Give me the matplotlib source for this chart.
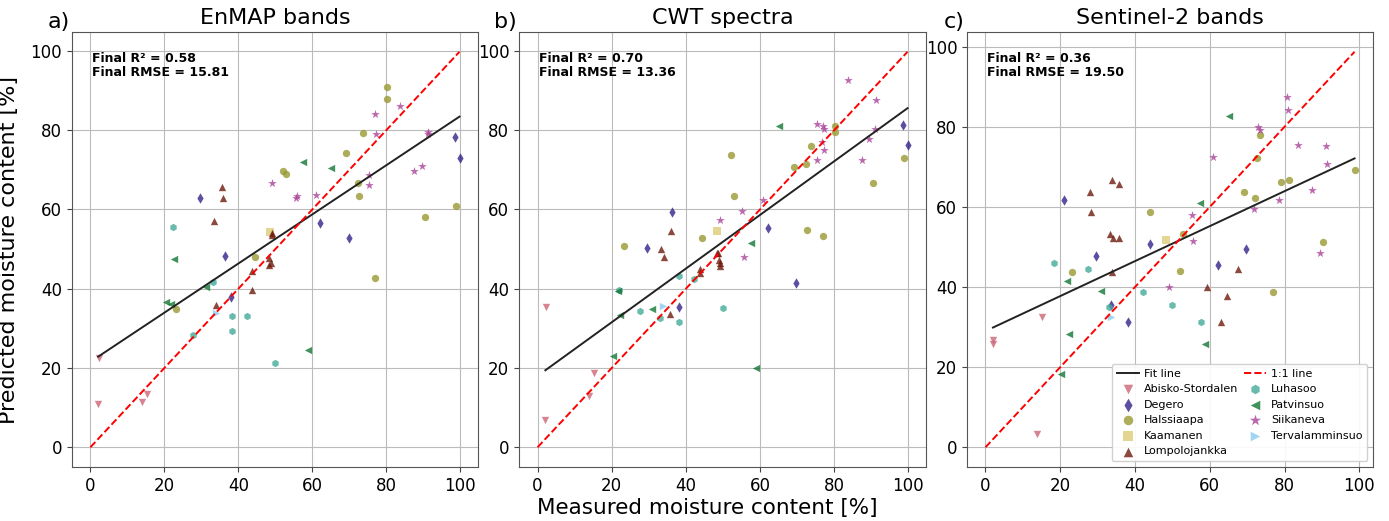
import matplotlib.pyplot as plt
import numpy as np

SITES = [
    "Abisko-Stordalen", "Degero", "Halssiaapa", "Kaamanen", "Lompolojankka",
    "Luhasoo", "Patvinsuo", "Siikaneva", "Tervalamminsuo",
]
MARKERS = ["v", "d", "o", "s", "^", "h", "<", "*", ">"]
COLORS = ["#CC6677", "#332288", "#999933", "#DDCC77", "#6E1A0C",
          "#44AA99", "#117733", "#AA4499", "#88CCEE"]

PANEL_TITLES = ["EnMAP bands", "CWT spectra", "Sentinel-2 bands"]
PANEL_LETTERS = ["a)", "b)", "c)"]
FINAL_R2 = [0.58, 0.70, 0.36]
FINAL_RMSE = [15.81, 13.36, 19.50]
# fit line (slope, intercept)
FIT_SLOPE = [0.620, 0.677, 0.4365]
FIT_INTERCEPT = [21.56, 18.0, 29.0]

ENMAP_X = {
    "Abisko-Stordalen": [2.3, 2.1, 14.0, 15.3],
    "Degero": [29.7, 36.3, 38.0, 62.2, 69.8, 98.5, 99.8],
    "Halssiaapa": [80.2, 80.2, 73.7, 69.1, 52.1, 52.8, 72.3, 72.6, 98.8, 90.4, 44.4, 77.0, 23.2],
    "Kaamanen": [48.5],
    "Lompolojankka": [35.7, 35.9, 33.4, 49.2, 49.0, 48.3, 48.8, 48.2, 43.8, 43.8, 33.9],
    "Luhasoo": [22.3, 33.1, 38.2, 42.3, 38.2, 27.7, 50.0],
    "Patvinsuo": [57.6, 65.1, 22.5, 31.2, 20.5, 21.8, 58.8],
    "Siikaneva": [77.0, 83.6, 77.3, 91.3, 91.4, 49.2, 55.5, 55.9, 60.9, 75.2, 75.3, 87.6, 89.6],
    "Tervalamminsuo": [33.9],
}
ENMAP_Y = {
    "Abisko-Stordalen": [22.4, 10.8, 11.3, 13.4],
    "Degero": [62.8, 48.3, 37.8, 56.7, 52.9, 78.4, 72.9],
    "Halssiaapa": [90.8, 88.0, 79.4, 74.2, 69.6, 68.9, 66.7, 63.5, 60.8, 58.1, 48.0, 42.8, 34.8],
    "Kaamanen": [54.4],
    "Lompolojankka": [65.7, 63.0, 57.1, 54.1, 53.6, 47.8, 46.6, 46.0, 44.5, 39.8, 35.9],
    "Luhasoo": [55.6, 41.6, 33.2, 33.2, 29.3, 28.2, 21.2],
    "Patvinsuo": [72.1, 70.4, 47.6, 40.5, 36.6, 36.2, 24.6],
    "Siikaneva": [84.0, 86.1, 79.1, 79.0, 79.6, 66.8, 63.0, 63.5, 63.7, 68.8, 66.3, 69.6, 70.9],
    "Tervalamminsuo": [33.8],
}

CWT_X = {
    "Abisko-Stordalen": [2.2, 2.1, 15.2, 13.9],
    "Degero": [29.6, 36.3, 38.1, 62.2, 69.8, 98.6, 99.8],
    "Halssiaapa": [80.2, 80.3, 73.7, 72.3, 69.2, 52.1, 52.9, 44.4, 23.2, 98.8, 90.5, 72.7, 77.0],
    "Kaamanen": [48.5],
    "Lompolojankka": [35.9, 33.4, 34.0, 48.4, 48.8, 48.9, 49.2, 49.2, 43.8, 43.8, 35.7],
    "Luhasoo": [22.0, 38.2, 42.2, 27.7, 33.1, 38.2, 49.9],
    "Patvinsuo": [65.2, 57.5, 21.7, 22.2, 31.0, 20.4, 58.9],
    "Siikaneva": [83.7, 91.4, 75.3, 76.9, 77.3, 76.8, 77.3, 75.3, 90.9, 89.5, 87.6, 60.9, 55.2, 49.2, 55.8],
    "Tervalamminsuo": [33.9],
}
CWT_Y = {
    "Abisko-Stordalen": [35.4, 7.0, 18.7, 13.0],
    "Degero": [50.2, 59.3, 35.4, 55.4, 41.4, 81.4, 76.2],
    "Halssiaapa": [81.0, 79.5, 75.9, 71.5, 70.6, 73.8, 63.5, 52.7, 50.9, 73.0, 66.8, 54.9, 53.4],
    "Kaamanen": [54.5],
    "Lompolojankka": [54.6, 50.0, 47.9, 49.1, 48.9, 47.3, 46.4, 45.8, 45.1, 43.9, 33.6],
    "Luhasoo": [39.8, 43.3, 42.4, 34.3, 32.7, 31.6, 35.2],
    "Patvinsuo": [81.0, 51.6, 39.4, 33.3, 34.9, 23.1, 20.0],
    "Siikaneva": [92.6, 87.7, 81.6, 81.0, 80.2, 77.0, 74.9, 72.6, 80.2, 77.9, 72.6, 62.4, 59.5, 57.3, 48.1],
    "Tervalamminsuo": [35.7],
}

S2_X = {
    "Abisko-Stordalen": [2.0, 2.1, 15.0, 13.7],
    "Degero": [20.9, 29.6, 33.7, 38.1, 44.1, 62.2, 69.8],
    "Halssiaapa": [73.4, 72.5, 69.0, 72.2, 78.9, 81.2, 98.7, 90.3, 76.9, 43.9, 52.7, 52.0, 23.2],
    "Kaamanen": [48.3],
    "Lompolojankka": [33.8, 35.7, 28.0, 28.2, 33.2, 34.1, 35.6, 33.8, 67.6, 59.2, 64.5, 63.0],
    "Luhasoo": [18.3, 27.5, 33.0, 42.1, 49.8, 57.7],
    "Patvinsuo": [65.0, 57.3, 21.7, 22.3, 30.9, 20.2, 58.7],
    "Siikaneva": [80.7, 81.0, 73.0, 73.3, 83.5, 91.1, 91.2, 60.8, 87.2, 78.5, 71.7, 55.2, 55.5, 49.0, 89.5],
    "Tervalamminsuo": [33.7],
}
S2_Y = {
    "Abisko-Stordalen": [26.7, 25.7, 32.6, 3.3],
    "Degero": [61.7, 47.7, 35.5, 31.2, 50.7, 45.4, 49.5],
    "Halssiaapa": [77.9, 72.3, 63.7, 62.1, 66.3, 66.6, 69.2, 51.3, 38.8, 58.7, 53.1, 44.0, 43.7],
    "Kaamanen": [51.8],
    "Lompolojankka": [66.7, 65.7, 63.7, 58.6, 53.3, 52.3, 52.3, 43.8, 44.6, 39.9, 37.8, 31.2],
    "Luhasoo": [45.9, 44.5, 35.1, 38.8, 35.4, 31.2],
    "Patvinsuo": [82.7, 61.0, 41.5, 28.3, 39.1, 18.4, 25.8],
    "Siikaneva": [87.3, 84.1, 79.9, 79.2, 75.4, 75.3, 70.8, 72.4, 64.2, 61.7, 59.4, 58.0, 51.5, 40.1, 48.5],
    "Tervalamminsuo": [32.6],
}

PANEL_X = [ENMAP_X, CWT_X, S2_X]
PANEL_Y = [ENMAP_Y, CWT_Y, S2_Y]

AXES_RECTS = [
    [0.0518, 0.1036, 0.2923, 0.835],
    [0.3737, 0.1036, 0.2930, 0.835],
    [0.6962, 0.1036, 0.2923, 0.835],
]


def main() -> None:
    fig = plt.figure(figsize=(13.89, 5.21), dpi=100)
    axes = [fig.add_axes(rect) for rect in AXES_RECTS]

    for i, ax in enumerate(axes):
        xs, ys = PANEL_X[i], PANEL_Y[i]
        site_handles = []
        for site, marker, color in zip(SITES, MARKERS, COLORS):
            size = 42 if marker == "*" else 28
            h = ax.scatter(xs[site], ys[site], marker=marker, s=size, color=color,
                           alpha=0.8, linewidths=0, label=site, zorder=3)
            site_handles.append(h)

        all_x = np.concatenate([xs[s] for s in SITES])
        x_line = np.array([all_x.min(), all_x.max()])
        fit_handle, = ax.plot(x_line, FIT_SLOPE[i] * x_line + FIT_INTERCEPT[i],
                              color="#222222", lw=1.4, label="Fit line", zorder=4)
        one_line = np.array([0, all_x.max()])
        one_handle, = ax.plot(one_line, one_line, color="red", ls="--", lw=1.4,
                              label="1:1 line", zorder=4)

        ax.set_xticks(range(0, 101, 20))
        ax.set_yticks(range(0, 101, 20))
        ax.tick_params(labelsize=12, color="#444444")
        ax.grid(True, color="#bbbbbb", lw=0.8)
        ax.set_axisbelow(True)
        for spine in ax.spines.values():
            spine.set_color("#555555")
        ax.set_title(PANEL_TITLES[i], fontsize=16)
        ax.text(-0.005, 1.0, PANEL_LETTERS[i], transform=ax.transAxes,
                ha="right", va="bottom", fontsize=16)
        ax.text(0.05, 0.955, f"Final R\u00b2 = {FINAL_R2[i]:.2f}\nFinal RMSE = {FINAL_RMSE[i]:.2f}",
                transform=ax.transAxes, ha="left", va="top", fontsize=9,
                fontweight="bold", linespacing=1.1)

        if i == 2:
            handles = [fit_handle] + site_handles[:5] + [one_handle] + site_handles[5:]
            ax.legend(handles=handles, ncol=2, loc="lower right", fontsize=8,
                      framealpha=0.9, borderpad=0.45, labelspacing=0.5,
                      columnspacing=0.5, handletextpad=0.45, markerscale=1.3)

    axes[0].set_ylabel("Predicted moisture content [%]", fontsize=16, labelpad=8)
    fig.text(0.509, 0.025, "Measured moisture content [%]", ha="center",
             va="center", fontsize=15.5)

    fig.savefig("out.png", dpi=100)
    plt.close(fig)


if __name__ == "__main__":
    main()
